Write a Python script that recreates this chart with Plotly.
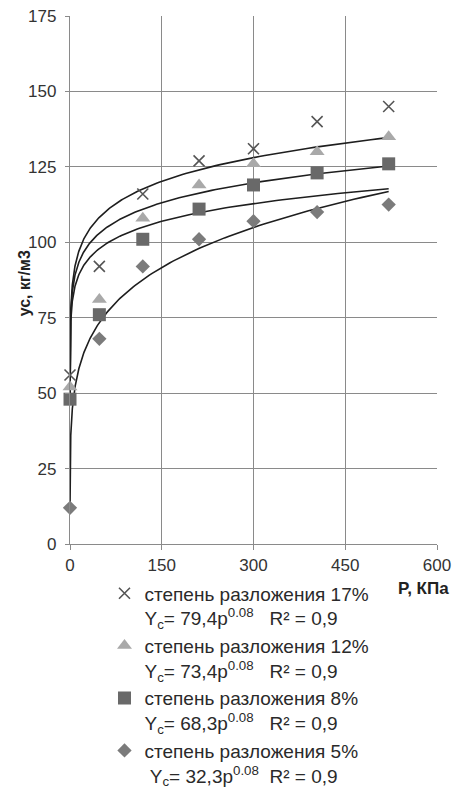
import numpy as np
import plotly.graph_objects as go

# ---- data ----
P = [0, 48, 119, 211, 300, 404, 521]
deg17 = [56, 92, 116, 127, 131, 140, 145]
deg12 = [52, 81, 108, 119, 126, 130, 135]
deg8 = [48, 76, 101, 111, 119, 123, 126]
deg5 = [12, 68, 92, 101, 107, 110, 112.5]

series_names = [
    "степень разложения 17%<br>Y<sub>c</sub>= 79,4p<sup>0.08</sup>   R² = 0,9",
    "степень разложения 12%<br>Y<sub>c</sub>= 73,4p<sup>0.08</sup>   R² = 0,9",
    "степень разложения 8%<br>Y<sub>c</sub>= 68,3p<sup>0.08</sup>   R² = 0,9",
    "степень разложения 5%<br> Y<sub>c</sub>= 32,3p<sup>0.08</sup>  R² = 0,9",
]
# power trend curves y = a * p^b as drawn in the picture
trend_a = [76, 75, 72.6, 34.5]
trend_b = [0.0915, 0.082, 0.0773, 0.195]

x_ticks = [0, 150, 300, 450, 600]
y_ticks = [0, 25, 50, 75, 100, 125, 150, 175]

# ---- styles ----
symbols = ["x-thin-open", "triangle-up", "square", "diamond"]
colors = ["#555555", "#a9a9a9", "#696969", "#7b7b7b"]
sizes = [11, 13, 13, 11]
FONT = "Liberation Sans, Arial, sans-serif"

fig = go.Figure()

# trend lines
p_curve = np.geomspace(0.005, max(P), 400)
for a, b in zip(trend_a, trend_b):
    fig.add_trace(go.Scatter(
        x=p_curve, y=a * p_curve ** b, mode="lines",
        line=dict(color="#1e1e1e", width=1.6),
        showlegend=False, hoverinfo="skip"))

# data markers
for ys, name, sym, col, sz in zip([deg17, deg12, deg8, deg5], series_names,
                                  symbols, colors, sizes):
    marker = dict(symbol=sym, size=sz, color=col)
    if sym == "x-thin-open":
        marker["line"] = dict(color=col, width=1.6)
    else:
        marker["line"] = dict(width=0)
    fig.add_trace(go.Scatter(x=P, y=ys, mode="markers", name=name,
                             marker=marker, cliponaxis=False))

grid = "#8a8a8a"
fig.update_xaxes(
    range=[0, 600], tickvals=x_ticks, showgrid=True, gridcolor=grid, gridwidth=1.3,
    showline=True, linecolor=grid, linewidth=1.3, zeroline=False,
    ticks="outside", ticklen=5, tickcolor=grid, tickwidth=1.3,
    tickfont=dict(family=FONT, size=17, color="#333333"), automargin=False)
fig.update_yaxes(
    range=[0, 175], tickvals=y_ticks, showgrid=True, gridcolor=grid, gridwidth=1.3,
    showline=True, linecolor=grid, linewidth=1.3, zeroline=False,
    ticks="outside", ticklen=4, tickcolor=grid, tickwidth=1.3,
    ticklabelstandoff=5,
    tickfont=dict(family=FONT, size=17, color="#333333"), automargin=False)

fig.add_annotation(
    text="<b>P, КПа</b>", xref="paper", yref="paper", x=0.9645, y=-0.0846,
    xanchor="center", yanchor="middle", showarrow=False,
    font=dict(family=FONT, size=17, color="#222222"))
fig.add_annotation(
    text="<b>ус, кг/м3</b>", xref="paper", yref="paper", x=-0.124, y=0.4946,
    xanchor="center", yanchor="middle", textangle=-90, showarrow=False,
    font=dict(family=FONT, size=16, color="#222222"))

fig.update_layout(
    width=457, height=789,
    margin=dict(l=70, r=20, t=16, b=245, autoexpand=False),
    paper_bgcolor="white", plot_bgcolor="white",
    font=dict(family=FONT, color="#333333"),
    legend=dict(x=0.094, y=-0.0575, xanchor="left", yanchor="top",
                font=dict(family=FONT, size=19, color="#2a2a2a"),
                valign="top", tracegroupgap=0, bgcolor="rgba(0,0,0,0)"),
)

fig.write_html("out.html")
